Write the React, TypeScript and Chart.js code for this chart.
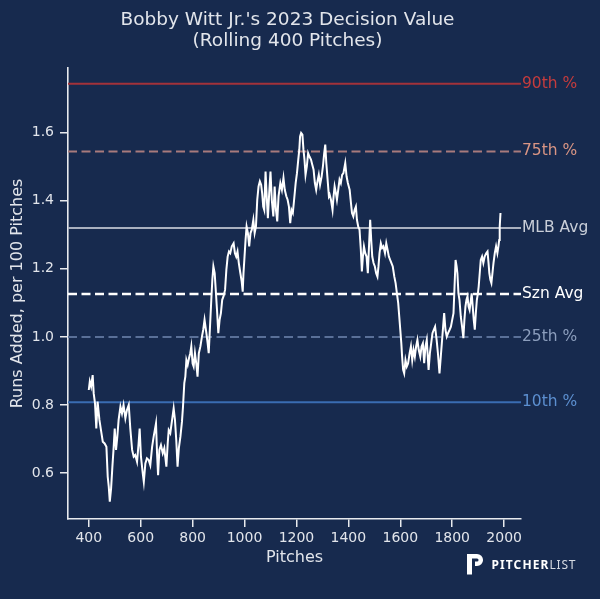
import { useEffect, useRef } from "react"
import { Chart, registerables } from "chart.js"

Chart.register(...registerables)

// [pitch number, runs added per 100 pitches]
const rolling: [number, number][] = [
  [400, 0.844], [404, 0.869], [409, 0.854], [415, 0.888], [419, 0.834], [424, 0.805],
  [429, 0.731], [434, 0.81], [441, 0.756], [447, 0.726], [454, 0.692], [461, 0.687],
  [468, 0.677], [473, 0.589], [477, 0.56], [481, 0.516], [486, 0.555], [491, 0.619],
  [496, 0.677], [500, 0.731], [505, 0.668], [510, 0.707], [515, 0.756], [522, 0.795],
  [528, 0.775], [534, 0.8], [541, 0.761], [547, 0.785], [554, 0.8], [560, 0.731],
  [567, 0.668], [573, 0.648], [579, 0.653], [586, 0.633], [592, 0.687], [596, 0.731],
  [601, 0.648], [608, 0.599], [612, 0.574], [618, 0.628], [624, 0.643], [631, 0.638],
  [637, 0.623], [644, 0.677], [650, 0.707], [659, 0.746], [663, 0.658], [667, 0.594],
  [672, 0.668], [678, 0.682], [685, 0.658], [691, 0.673], [699, 0.619], [704, 0.687],
  [708, 0.726], [714, 0.717], [721, 0.756], [727, 0.79], [732, 0.756], [737, 0.697],
  [742, 0.619], [747, 0.673], [753, 0.707], [759, 0.751], [763, 0.795], [768, 0.864],
  [772, 0.883], [776, 0.932], [781, 0.918], [786, 0.937], [791, 0.952], [795, 0.972],
  [800, 0.922], [804, 0.913], [809, 0.952], [814, 0.922], [819, 0.883], [824, 0.952],
  [830, 0.972], [836, 1.001], [841, 1.021], [846, 1.05], [853, 1.011], [858, 0.981],
  [862, 0.952], [867, 1.03], [872, 1.109], [876, 1.168], [880, 1.207], [885, 1.187],
  [890, 1.128], [894, 1.079], [899, 1.011], [904, 1.05], [909, 1.07], [914, 1.109],
  [919, 1.119], [925, 1.138], [930, 1.197], [935, 1.236], [940, 1.251], [945, 1.246],
  [951, 1.266], [958, 1.275], [963, 1.246], [968, 1.236], [973, 1.251], [978, 1.217],
  [984, 1.187], [989, 1.163], [993, 1.133], [996, 1.187], [1000, 1.236], [1004, 1.285],
  [1008, 1.324], [1013, 1.305], [1018, 1.266], [1023, 1.305], [1028, 1.315], [1034, 1.344],
  [1039, 1.305], [1044, 1.324], [1049, 1.403], [1054, 1.442], [1059, 1.457], [1064, 1.447],
  [1068, 1.422], [1072, 1.383], [1076, 1.373], [1081, 1.486], [1086, 1.403], [1090, 1.349],
  [1095, 1.422], [1100, 1.486], [1105, 1.403], [1111, 1.354], [1116, 1.442], [1121, 1.373],
  [1126, 1.339], [1131, 1.413], [1138, 1.452], [1144, 1.432], [1150, 1.467], [1155, 1.432],
  [1161, 1.413], [1166, 1.403], [1171, 1.383], [1176, 1.334], [1181, 1.373], [1186, 1.364],
  [1191, 1.403], [1197, 1.452], [1202, 1.481], [1207, 1.521], [1211, 1.55], [1214, 1.589],
  [1218, 1.599], [1223, 1.594], [1227, 1.55], [1231, 1.521], [1235, 1.476], [1240, 1.501],
  [1245, 1.54], [1250, 1.53], [1256, 1.521], [1261, 1.506], [1266, 1.491], [1271, 1.452],
  [1276, 1.432], [1281, 1.457], [1286, 1.476], [1291, 1.447], [1297, 1.471], [1302, 1.501],
  [1307, 1.54], [1311, 1.565], [1315, 1.511], [1320, 1.462], [1325, 1.413], [1328, 1.418],
  [1333, 1.403], [1339, 1.373], [1343, 1.413], [1347, 1.442], [1352, 1.422], [1356, 1.403],
  [1361, 1.432], [1366, 1.462], [1371, 1.452], [1376, 1.476], [1381, 1.481], [1388, 1.511],
  [1393, 1.472], [1398, 1.452], [1405, 1.432], [1410, 1.393], [1414, 1.364], [1419, 1.354],
  [1424, 1.373], [1429, 1.383], [1433, 1.344], [1438, 1.324], [1443, 1.315], [1448, 1.256],
  [1452, 1.192], [1456, 1.236], [1460, 1.266], [1465, 1.246], [1470, 1.236], [1475, 1.187],
  [1480, 1.275], [1484, 1.344], [1488, 1.285], [1492, 1.236], [1497, 1.217], [1502, 1.207],
  [1507, 1.187], [1512, 1.177], [1516, 1.207], [1520, 1.246], [1525, 1.275], [1530, 1.261],
  [1535, 1.266], [1541, 1.246], [1546, 1.275], [1551, 1.256], [1556, 1.236], [1561, 1.226],
  [1566, 1.217], [1571, 1.207], [1577, 1.177], [1582, 1.158], [1587, 1.128], [1592, 1.099],
  [1596, 1.06], [1600, 1.021], [1604, 0.981], [1607, 0.942], [1611, 0.903], [1615, 0.893],
  [1620, 0.932], [1625, 0.913], [1630, 0.922], [1636, 0.952], [1641, 0.972], [1646, 0.932],
  [1651, 0.962], [1656, 0.942], [1661, 0.972], [1666, 0.991], [1671, 0.962], [1677, 0.942],
  [1682, 0.972], [1687, 0.981], [1692, 0.923], [1697, 0.972], [1702, 0.991], [1709, 0.903],
  [1714, 0.952], [1719, 0.981], [1724, 1.011], [1729, 1.021], [1734, 1.03], [1740, 0.991],
  [1745, 0.952], [1751, 0.893], [1756, 0.942], [1761, 0.991], [1765, 1.03], [1769, 1.07],
  [1774, 1.021], [1779, 1.001], [1784, 1.011], [1790, 1.021], [1795, 1.03], [1800, 1.05],
  [1805, 1.07], [1809, 1.148], [1813, 1.226], [1817, 1.207], [1820, 1.187], [1824, 1.128],
  [1828, 1.109], [1833, 1.06], [1838, 1.03], [1843, 0.996], [1847, 1.05], [1851, 1.089],
  [1855, 1.109], [1859, 1.119], [1863, 1.089], [1867, 1.079], [1872, 1.109], [1875, 1.128],
  [1879, 1.089], [1883, 1.05], [1887, 1.021], [1891, 1.07], [1895, 1.109], [1899, 1.128],
  [1902, 1.148], [1906, 1.187], [1910, 1.226], [1915, 1.236], [1920, 1.217], [1925, 1.236],
  [1931, 1.246], [1936, 1.251], [1940, 1.217], [1943, 1.187], [1947, 1.168], [1951, 1.158],
  [1955, 1.187], [1959, 1.217], [1964, 1.246], [1969, 1.266], [1974, 1.246], [1978, 1.266],
  [1981, 1.285], [1983, 1.324], [1986, 1.364],
]

const refNames = ["90th %", "75th %", "MLB Avg", "Szn Avg", "25th %", "10th %"]
const refValues = [1.744, 1.545, 1.32, 1.126, 1.0, 0.808]

const xTicks = [400, 600, 800, 1000, 1200, 1400, 1600, 1800, 2000]
const yTicks = [0.6, 0.8, 1.0, 1.2, 1.4, 1.6]
const xRange = [320, 2065]
const yRange = [0.465, 1.79]

const titleLines = ["Bobby Witt Jr.'s 2023 Decision Value", "(Rolling 400 Pitches)"]

const BG = "#172a4e"
const FONT = "'DejaVu Sans', sans-serif"
const TEXT = "#e2e5eb"

const refStyles = [
  { line: "#a3323a", text: "#c63c3d", dash: [] as number[], width: 2 },
  { line: "#a87a7c", text: "#d99584", dash: [9, 4.5], width: 2 },
  { line: "#a9b0bf", text: "#c9ced8", dash: [] as number[], width: 2 },
  { line: "#ffffff", text: "#ffffff", dash: [9, 4.5], width: 2.4 },
  { line: "#5a7098", text: "#8c9ebd", dash: [9, 4.5], width: 2 },
  { line: "#3a6cb2", text: "#5c8fd0", dash: [] as number[], width: 2 },
]

const overlay = {
  id: "overlay",
  beforeDraw(chart: Chart) {
    const c = chart.ctx
    c.save()
    c.fillStyle = BG
    c.fillRect(0, 0, chart.width, chart.height)
    c.restore()
  },
  afterDraw(chart: Chart) {
    const c = chart.ctx as any
    const area = chart.chartArea
    const ys = chart.scales.y
    c.save()

    // title
    c.fillStyle = TEXT
    c.font = `18.5px ${FONT}`
    c.textAlign = "center"
    c.textBaseline = "alphabetic"
    c.fillText(titleLines[0], 287.5, 25)
    c.fillText(titleLines[1], 287.5, 46)

    // labels for reference lines
    c.font = `15.5px ${FONT}`
    c.textAlign = "left"
    c.textBaseline = "middle"
    refNames.forEach((name, i) => {
      c.fillStyle = refStyles[i].text
      c.fillText(name, area.right + 1, ys.getPixelForValue(refValues[i]))
    })

    // pitcherlist mark
    c.fillStyle = "#ffffff"
    c.fillRect(467, 554, 5, 20.5)
    c.strokeStyle = "#ffffff"
    c.lineWidth = 4.5
    c.lineCap = "butt"
    c.beginPath()
    c.moveTo(467, 556.2)
    c.lineTo(477, 556.2)
    c.arc(477, 560, 3.8, -Math.PI / 2, Math.PI / 2)
    c.lineTo(475, 563.8)
    c.stroke()

    c.textBaseline = "alphabetic"
    c.letterSpacing = "1.1px"
    c.font = `bold 12px 'Noto Sans', sans-serif`
    c.fillText("PITCHER", 491.5, 569.3)
    const w = c.measureText("PITCHER").width
    c.fillStyle = "#d6dae2"
    c.letterSpacing = "0.8px"
    c.font = `12px 'Noto Sans', sans-serif`
    c.fillText("LIST", 491.5 + w, 569.3)
    c.restore()
  },
}

export default function App() {
  const chartRef = useRef<HTMLCanvasElement>(null)
  const chartInstance = useRef<Chart | null>(null)

  useEffect(() => {
    if (!chartRef.current) return

    if (chartInstance.current) {
      chartInstance.current.destroy()
    }

    const ctx = chartRef.current.getContext("2d")
    if (!ctx) return

    const refSets = refValues.map((v, i) => ({
      data: [
        { x: xRange[0], y: v },
        { x: xRange[1], y: v },
      ],
      borderColor: refStyles[i].line,
      borderWidth: refStyles[i].width,
      borderDash: refStyles[i].dash,
      pointRadius: 0,
      order: 1,
    }))

    chartInstance.current = new Chart(ctx, {
      type: "line",
      data: {
        datasets: [
          {
            data: rolling.map(([x, y]) => ({ x, y })),
            borderColor: "#ffffff",
            borderWidth: 2,
            pointRadius: 0,
            tension: 0,
            order: 0,
          },
          ...refSets,
        ],
      },
      options: {
        animation: false,
        responsive: true,
        maintainAspectRatio: false,
        layout: { padding: { left: 0, right: 79, top: 68, bottom: 0 } },
        plugins: {
          legend: { display: false },
          tooltip: { enabled: false },
        },
        scales: {
          x: {
            type: "linear",
            min: xRange[0],
            max: xRange[1],
            afterBuildTicks: (s: any) => {
              s.ticks = xTicks.map((value) => ({ value }))
            },
            afterFit: (s: any) => {
              s.height = 80
            },
            grid: {
              display: true,
              drawOnChartArea: false,
              drawTicks: true,
              tickLength: 8,
              color: "#e8eaee",
              lineWidth: 1.5,
            },
            border: { display: true, color: "#e8eaee", width: 1.6 },
            ticks: {
              color: TEXT,
              font: { family: FONT, size: 14 },
              padding: 3,
              maxRotation: 0,
              autoSkip: false,
              callback: (v: any) => String(v),
            },
            title: {
              display: true,
              text: "Pitches",
              color: TEXT,
              font: { family: FONT, size: 16 },
              padding: { top: 0, bottom: 31.5 },
            },
          },
          y: {
            type: "linear",
            min: yRange[0],
            max: yRange[1],
            afterBuildTicks: (s: any) => {
              s.ticks = yTicks.map((value) => ({ value }))
            },
            afterFit: (s: any) => {
              s.width = 68
            },
            grid: {
              display: true,
              drawOnChartArea: false,
              drawTicks: true,
              tickLength: 8,
              color: "#e8eaee",
              lineWidth: 1.5,
            },
            border: { display: true, color: "#e8eaee", width: 1.6 },
            ticks: {
              color: TEXT,
              font: { family: FONT, size: 14 },
              padding: 6,
              autoSkip: false,
              callback: (v: any) => Number(v).toFixed(1),
            },
            title: {
              display: true,
              text: "Runs Added, per 100 Pitches",
              color: TEXT,
              font: { family: FONT, size: 16 },
              padding: { top: 8.4, bottom: 0 },
            },
          },
        },
      },
      plugins: [overlay],
    })

    return () => {
      if (chartInstance.current) {
        chartInstance.current.destroy()
        chartInstance.current = null
      }
    }
  }, [])

  return (
    <div style={{ position: "fixed", left: 0, top: 0, width: 600, height: 599, background: BG }}>
      <canvas ref={chartRef}></canvas>
    </div>
  )
}
